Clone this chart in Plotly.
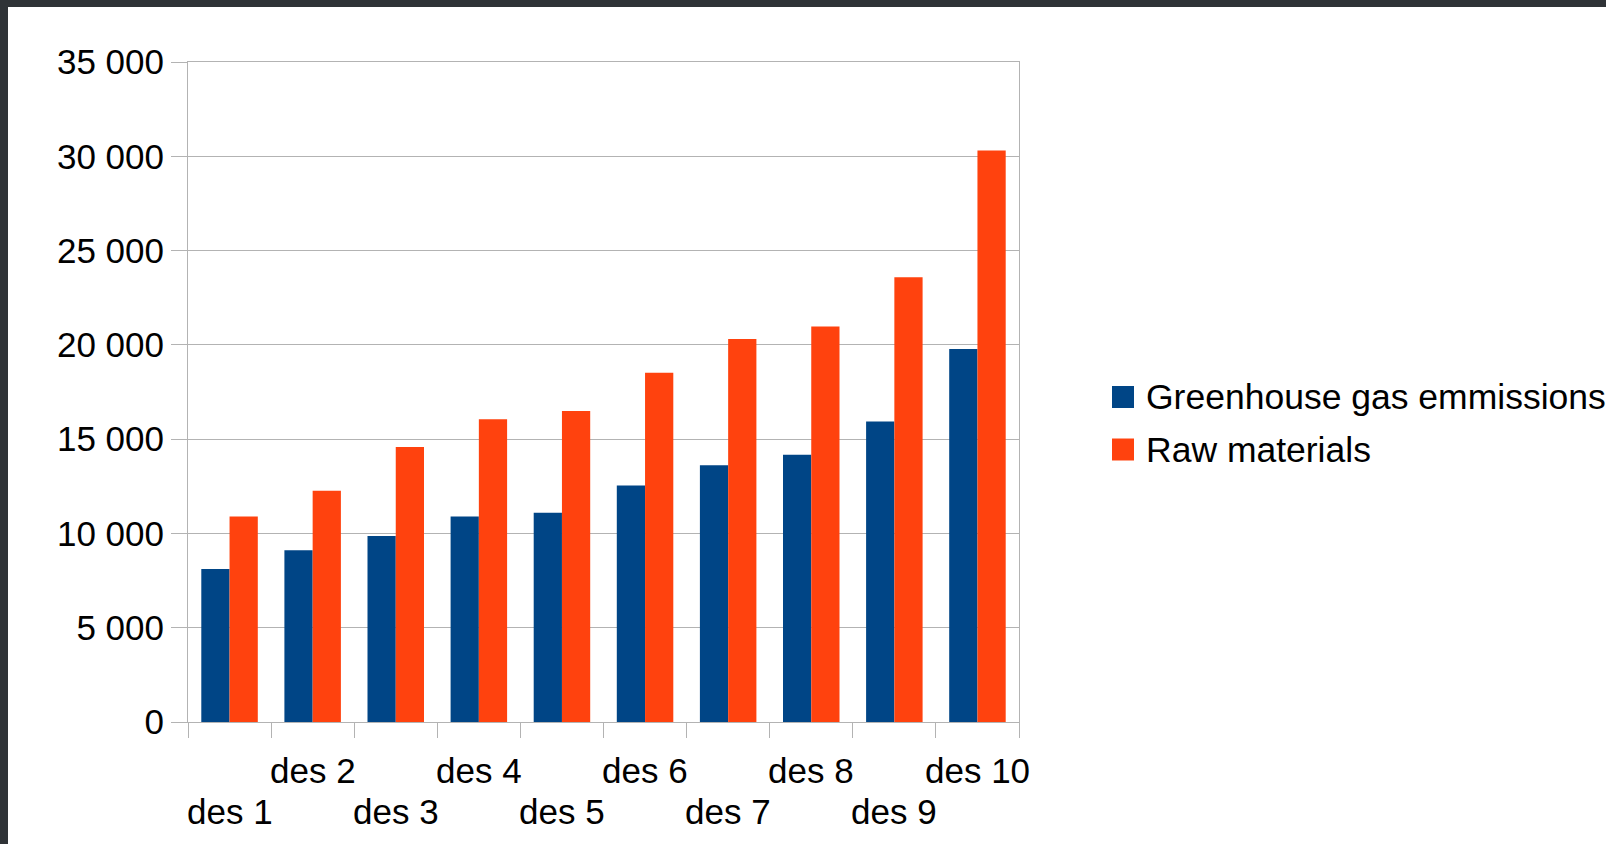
import plotly.graph_objects as go

categories = ["des 1", "des 2", "des 3", "des 4", "des 5", "des 6", "des 7", "des 8", "des 9", "des 10"]
series_names = ["Greenhouse gas emmissions", "Raw materials"]
greenhouse = [8110, 9110, 9870, 10900, 11090, 12540, 13620, 14170, 15940, 19780]
raw_materials = [10900, 12260, 14580, 16060, 16490, 18520, 20310, 20980, 23580, 30310]
y_ticks = [0, 5000, 10000, 15000, 20000, 25000, 30000, 35000]

BLUE = "#004586"
ORANGE = "#ff420e"
GRID = "#b3b3b3"
DARK = "#2f3337"
FONT = "Liberation Sans"
FS = 35

W, H = 1606, 844
L, R, T, B = 188, 587, 62, 122
PW, PH = W - L - R, H - T - B


def px(xp):
    return (xp - L) / PW


def py(yp):
    return (H - B - yp) / PH


fig = go.Figure()
fig.add_trace(go.Bar(x=categories, y=greenhouse, name=series_names[0],
                     marker=dict(color=BLUE, line=dict(width=0)), showlegend=False))
fig.add_trace(go.Bar(x=categories, y=raw_materials, name=series_names[1],
                     marker=dict(color=ORANGE, line=dict(width=0)), showlegend=False))

annotations = []
for i, c in enumerate(categories):
    upper = (i % 2 == 1)
    annotations.append(dict(
        x=c, xref="x", y=0, yref="paper", yanchor="middle", xanchor="center",
        yshift=-48 if upper else -89, text=c, showarrow=False,
        font=dict(family=FONT, size=FS, color="#000000")))

# legend (custom)
leg_colors = [BLUE, ORANGE]
leg_centers = [397, 449.5]
shapes = []
for name, col, cy in zip(series_names, leg_colors, leg_centers):
    shapes.append(dict(type="rect", xref="paper", yref="paper",
                       x0=px(1112), x1=px(1134), y0=py(cy - 11), y1=py(cy + 11),
                       fillcolor=col, line=dict(width=0), layer="above"))
    annotations.append(dict(x=px(1144), xref="paper", y=py(cy), yref="paper",
                            xanchor="left", yanchor="middle", text=name, showarrow=False,
                            font=dict(family=FONT, size=35.5, color="#000000")))

# dark screenshot frame (top and left strips)
shapes.append(dict(type="rect", xref="paper", yref="paper", x0=px(-20), x1=px(W + 20),
                   y0=py(7), y1=py(-20), fillcolor=DARK, line=dict(width=0), layer="above"))
shapes.append(dict(type="rect", xref="paper", yref="paper", x0=px(-20), x1=px(8),
                   y0=py(H + 20), y1=py(-20), fillcolor=DARK, line=dict(width=0), layer="above"))

fig.update_layout(
    width=W, height=H,
    margin=dict(l=L, r=R, t=T, b=B, autoexpand=False),
    paper_bgcolor="#ffffff", plot_bgcolor="#ffffff",
    barmode="group", bargap=0.32, bargroupgap=0,
    separators=". ",
    font=dict(family=FONT, size=FS, color="#000000"),
    showlegend=False,
    xaxis=dict(type="category", showticklabels=False, tickson="boundaries",
               ticks="outside", ticklen=15, tickcolor=GRID, tickwidth=1,
               showgrid=False, showline=True, linecolor=GRID, linewidth=1, mirror=True,
               range=[-0.5, len(categories) - 0.5], fixedrange=True),
    yaxis=dict(range=[0, 35000], tickvals=y_ticks, tickformat=",d",
               ticks="outside", ticklen=16, tickcolor=GRID, tickwidth=1,
               showgrid=True, gridcolor=GRID, gridwidth=1, zeroline=False,
               showline=True, linecolor=GRID, linewidth=1, mirror=True,
               tickfont=dict(family=FONT, size=FS, color="#000000"), fixedrange=True),
    annotations=annotations,
    shapes=shapes,
)

fig.write_html("out.html")
